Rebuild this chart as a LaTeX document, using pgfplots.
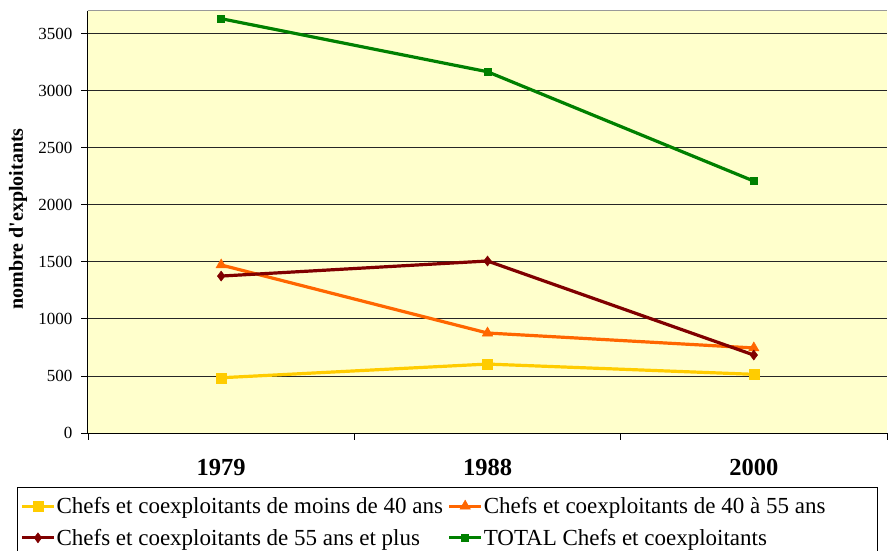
\documentclass[border=0pt]{standalone}
\usepackage{pgfplots}
\pgfplotsset{compat=1.18}
\usepackage{fontspec}
\setmainfont{Liberation Serif}
\definecolor{cyel}{HTML}{FFCC00}
\definecolor{cora}{HTML}{FF6600}
\definecolor{cred}{HTML}{800000}
\definecolor{cgre}{HTML}{008000}
\definecolor{cbg}{HTML}{FFFFCC}
\begin{document}
\begin{tikzpicture}
\useasboundingbox (-88bp,-118bp) rectangle (800bp,433bp);
\begin{axis}[
  at={(0,0)}, anchor=south west,
  scale only axis, width=799bp, height=422.3bp,
  xmin=0, xmax=3, ymin=0, ymax=3700,
  axis background/.style={fill=cbg},
  axis line style={draw=none},
  xtick pos=bottom, ytick pos=left,
  xtick={0,1,2,3}, xticklabels={},
  extra x ticks={0.5,1.5,2.5}, extra x tick labels={1979,1988,2000},
  extra x tick style={major tick length=0pt, xticklabel style={font=\fontsize{24.5bp}{28bp}\selectfont\bfseries, anchor=north, inner sep=0pt, yshift=-26bp}},
  ytick={0,500,...,3500},
  ymajorgrids, grid style={black!85, line width=0.8bp},
  tick style={black, line width=0.8bp},
  tick align=outside, major tick length=6.5bp,
  /pgf/number format/assume math mode=true,
  /pgf/number format/1000 sep={},
  yticklabel style={font=\fontsize{17bp}{20bp}\selectfont, anchor=east, inner sep=0pt, xshift=-9bp},
  ylabel={nombre d{\addfontfeatures{Ligatures=TeXOff}'}exploitants},
  every axis y label/.style={at={(axis description cs:-0.0876,0.507)}, rotate=90, anchor=center, font=\fontsize{20bp}{24bp}\selectfont\bfseries},
  every axis plot/.append style={line width=3.2bp},
  legend columns=2,
  legend cell align=left,
  legend style={at={(axis description cs:-0.0889,-0.1277)}, anchor=north west, draw=black, line width=0.8bp, fill=white,
    font=\fontsize{23bp}{26bp}\selectfont, inner xsep=3bp, inner ysep=8bp, row sep=10bp,
    nodes={inner xsep=1bp, inner ysep=2bp}},
  legend image code/.code={\draw[mark repeat=2,mark phase=2,#1] plot coordinates {(0bp,0bp)(16bp,0bp)(32bp,0bp)};},
  after end axis/.code={
    \draw[black, line width=1bp] (axis description cs:0,1) -- (axis description cs:0,0) -- (axis description cs:1,0);
    \draw[black!40, line width=1.5bp] (axis description cs:0,1) -- (axis description cs:1,1);
  },
]
\addplot[color=cyel, mark=square*, mark size=5bp, mark options={line width=0.5bp}] coordinates {(0.5,484) (1.5,604) (2.5,514)};
\addlegendentry{\makebox[390bp][l]{Chefs et coexploitants de moins de 40 ans}}
\addplot[color=cora, mark=triangle*, mark size=6bp, mark options={line width=0.5bp}] coordinates {(0.5,1472) (1.5,876) (2.5,745)};
\addlegendentry{\makebox[390bp][l]{Chefs et coexploitants de 40 à 55 ans}}
\addplot[color=cred, mark=diamond*, mark size=5bp, mark options={line width=0.5bp}] coordinates {(0.5,1375) (1.5,1507) (2.5,683)};
\addlegendentry{Chefs et coexploitants de 55 ans et plus}
\addplot[color=cgre, mark=square*, mark size=3.5bp, mark options={line width=0.5bp}] coordinates {(0.5,3630) (1.5,3165) (2.5,2207)};
\addlegendentry{TOTAL Chefs et coexploitants}
\end{axis}
\end{tikzpicture}
\end{document}
